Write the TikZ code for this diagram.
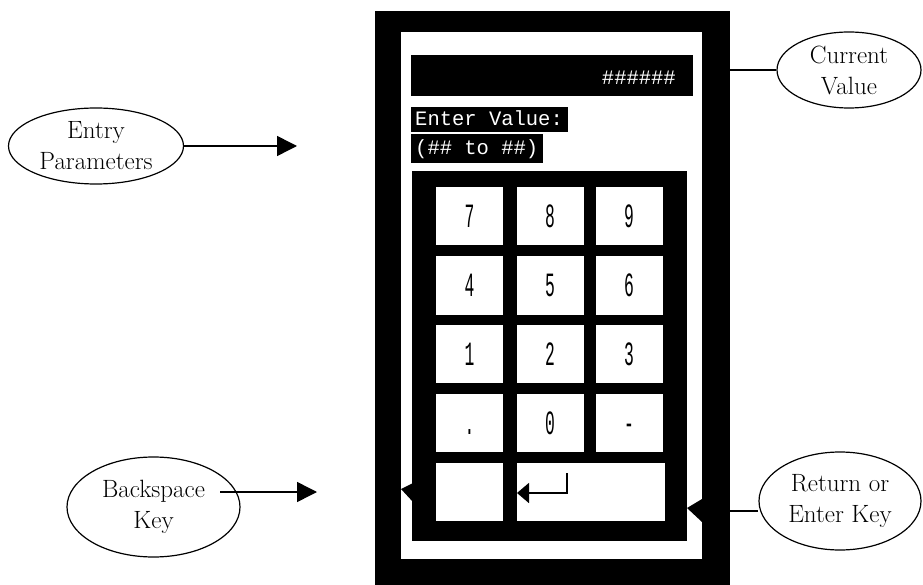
\documentclass[tikz,border=0pt]{standalone}
\usepackage{fontspec}
\usepackage{graphicx}
\newfontfamily\monofont{Liberation Mono}
\usetikzlibrary{shapes.geometric,arrows.meta}
\newcommand\keyglyph[1]{\scalebox{0.48}[1]{\fontsize{34}{34}\selectfont\monofont\vphantom{0}#1}}
\tikzset{
  callout/.style={draw, line width=1.2pt, ellipse, inner sep=0pt, align=center,
    font=\fontsize{25}{31}\selectfont},
  conn/.style={line width=1.5pt},
  pointer/.style={conn, -{Triangle[length=20pt,width=20pt]}},
  keybox/.style={fill=white, inner sep=0pt, minimum width=67, minimum height=58},
  screentext/.style={text=white, inner sep=0pt, font=\fontsize{20.5}{20.5}\selectfont\monofont},
}
\begin{document}
\begin{tikzpicture}[x=1pt,y=-1pt]
\useasboundingbox (0,0) rectangle (923,585);

% device frame and screen
\fill (375,11) rectangle (730,585);
\fill[white] (401,32) rectangle (702,559);

% value display
\fill (411,55) rectangle (693,96);
\node[screentext, anchor=base east] (val) at (676,85) {\#\#\#\#\#\#};

% prompt lines
\fill (411,107) rectangle (568,132);
\node[screentext, anchor=base west] (prompt) at (415,126) {Enter Value:};
\fill (411,134) rectangle (543,163);
\node[screentext, anchor=base west] (range) at (415,155) {(\#\# to \#\#)};

% keypad
\fill (412,171) rectangle (687,541);
\fill (413,483) -- (401,489) -- (413,502) -- cycle;
\fill (702,499) -- (687,508) -- (702,522) -- cycle;

\node[keybox] (k7) at (469.5,216) {\keyglyph{7}};
\node[keybox] (k8) at (550,216) {\keyglyph{8}};
\node[keybox] (k9) at (629,216) {\keyglyph{9}};
\node[keybox] (k4) at (469.5,285.5) {\keyglyph{4}};
\node[keybox] (k5) at (550,285.5) {\keyglyph{5}};
\node[keybox] (k6) at (629,285.5) {\keyglyph{6}};
\node[keybox] (k1) at (469.5,354) {\keyglyph{1}};
\node[keybox] (k2) at (550,354) {\keyglyph{2}};
\node[keybox] (k3) at (629,354) {\keyglyph{3}};
\node[keybox] (kdot) at (469.5,423) {\keyglyph{.}};
\node[keybox] (k0) at (550,423) {\keyglyph{0}};
\node[keybox] (kminus) at (629,423) {\keyglyph{-}};
\node[keybox] (kback) at (469.5,492) {};
\node[keybox, minimum width=148] (kenter) at (591,492) {};

% return symbol on the enter key
\coordinate (ret-top) at (567,473);
\coordinate (ret-tip) at (517,493);
\draw[line width=1.6pt, -{Triangle[length=12pt,width=20pt]}] (ret-top) |- (ret-tip);

% callouts
\node[callout, minimum width=175, minimum height=76] (ep) at (96,146) {Entry\\Parameters};
\node[callout, minimum width=144, minimum height=76] (cv) at (849,70) {Current\\Value};
\node[callout, minimum width=173, minimum height=100] (bk) at (153.5,507) {Backspace\\Key};
\node[callout, minimum width=162, minimum height=98] (rk) at (840,501) {Return or\\Enter Key};

% connectors
\coordinate (ep-tip) at (297,146);
\draw[pointer] (ep.east) -- (ep-tip);

\coordinate (bk-from) at (220,492);
\coordinate (bk-tip) at (317,492);
\draw[pointer] (bk-from) -- (bk-tip);

\coordinate (cv-end) at (730,70);
\draw[conn] (cv.west) -- (cv-end);

\coordinate (rk-end) at (730,511);
\draw[conn] (rk-end) -- (rk-end -| rk.west);
\end{tikzpicture}
\end{document}
